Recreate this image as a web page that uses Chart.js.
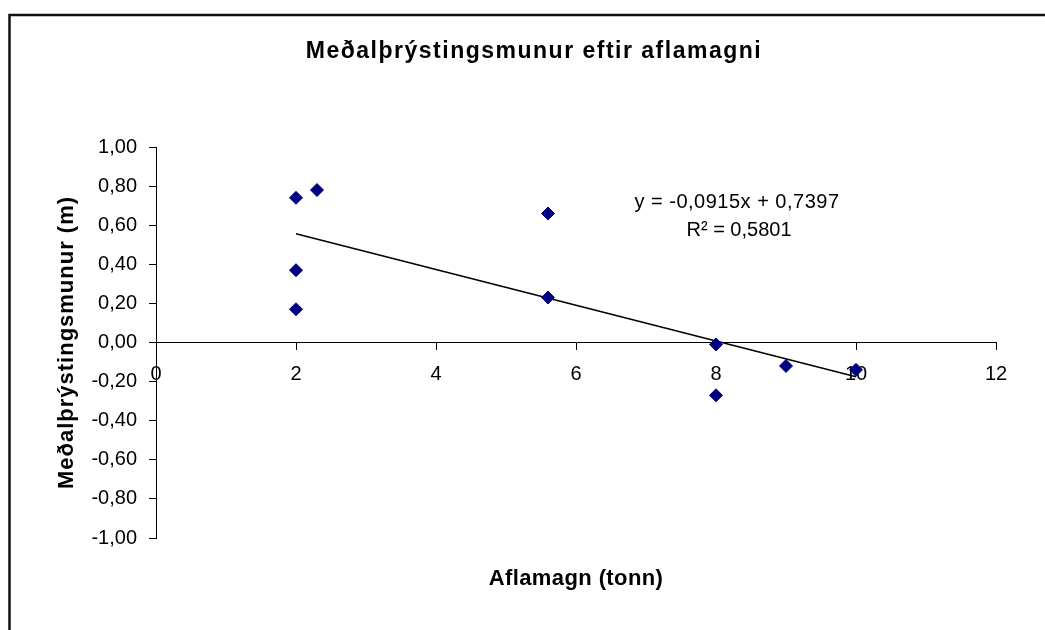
<!DOCTYPE html>
<html>
<head>
<meta charset="utf-8">
<script src="https://cdn.jsdelivr.net/npm/chart.js@4"></script>
<style>
  body { margin: 0; background: #fff; }
  #wrap { width: 1045px; height: 630px; }
</style>
</head>
<body>
<div id="wrap"><canvas id="scatter_chart" width="1045" height="630"></canvas></div>
<script>
// 測定データ (aflamagn, meðalþrýstingsmunur)
const aflamagn = [2, 2.3, 2, 2, 5.6, 5.6, 8, 8, 9, 10]
const thrystingsmunur = [0.74, 0.78, 0.37, 0.17, 0.66, 0.23, -0.01, -0.27, -0.12, -0.14]

// 近似直線 y = a x + b
const slope = -0.0915
const intercept = 0.7397
const r2 = 0.5801

// 軸の設定
const xTicks = [0, 12, 2]
const yTicks = [-1, 1, 0.2]

const titleText = 'Meðalþrýstingsmunur eftir aflamagni'
const xTitle = 'Aflamagn (tonn)'
const yTitle = 'Meðalþrýstingsmunur (m)'

const comma = (v, d) => (Math.abs(v) < 1e-9 ? 0 : v).toFixed(d).replace('.', ',')

const points = aflamagn.map((x, i) => ({ x: x, y: thrystingsmunur[i] }))
const xMin = Math.min(...aflamagn)
const xMax = Math.max(...aflamagn)
const trend = [
  { x: xMin, y: slope * xMin + intercept },
  { x: xMax, y: slope * xMax + intercept },
]
const eqLine1 = 'y = ' + comma(slope, 4) + 'x + ' + comma(intercept, 4)
const eqLine2 = 'R² = ' + comma(r2, 4)

// 枠線とテキストを描くプラグイン
const extras = {
  id: 'extras',
  beforeDraw(chart) {
    const c = chart.ctx
    c.save()
    c.strokeStyle = '#111'
    c.lineWidth = 2.5
    c.beginPath()
    c.moveTo(9.5, 640)
    c.lineTo(9.5, 15)
    c.lineTo(1050, 15)
    c.stroke()
    c.restore()
  },
  afterDraw(chart) {
    const c = chart.ctx
    const area = chart.chartArea
    const xs = chart.scales.x
    const ys = chart.scales.y
    c.save()
    c.fillStyle = '#000'
    c.textAlign = 'center'
    c.textBaseline = 'alphabetic'
    // タイトル
    c.font = 'bold 23px "Liberation Sans", Arial, sans-serif'
    c.letterSpacing = '1.5px'
    c.fillText(titleText, 534, 58)
    // x軸タイトル
    c.font = 'bold 22px "Liberation Sans", Arial, sans-serif'
    c.letterSpacing = '0.4px'
    c.fillText(xTitle, (area.left + area.right) / 2, 585)
    // y軸タイトル
    c.save()
    c.translate(73, (area.top + area.bottom) / 2)
    c.rotate(-Math.PI / 2)
    c.letterSpacing = '1px'
    c.fillText(yTitle, 0, 0)
    c.restore()
    // 近似式
    c.font = '20px "Liberation Sans", Arial, sans-serif'
    c.letterSpacing = '0.5px'
    const ex = xs.getPixelForValue(8.3)
    const ey = ys.getPixelForValue(0.69)
    c.fillText(eqLine1, ex, ey)
    c.letterSpacing = '0px'
    c.fillText(eqLine2, ex + 2, ey + 28)
    c.restore()
  },
}

const ctx = document.getElementById('scatter_chart').getContext('2d')
const scatter_chart = new Chart(ctx, {
  type: 'scatter',
  data: {
    datasets: [
      {
        label: 'Meðalþrýstingsmunur',
        data: points,
        pointStyle: 'rectRot',
        pointRadius: 6.5,
        pointBorderWidth: 1,
        backgroundColor: '#000080',
        borderColor: '#000080',
      },
      {
        type: 'line',
        label: 'Línuleg leitni',
        data: trend,
        borderColor: '#000',
        borderWidth: 1.6,
        pointRadius: 0,
        fill: false,
      },
    ],
  },
  options: {
    responsive: false,
    animation: false,
    devicePixelRatio: 1,
    layout: { padding: { top: 147, right: 49, bottom: 92, left: 0 } },
    plugins: {
      legend: { display: false },
      tooltip: { enabled: false },
    },
    scales: {
      x: {
        type: 'linear',
        position: { y: 0 },
        min: xTicks[0],
        max: xTicks[1],
        ticks: {
          stepSize: xTicks[2],
          color: '#000',
          padding: 13,
          font: { family: '"Liberation Sans", Arial, sans-serif', size: 20 },
        },
        grid: { drawOnChartArea: false, drawTicks: true, tickLength: 7, tickColor: '#000' },
        border: { display: true, color: '#000', width: 1 },
        afterFit: (scale) => { scale.height = 0 },
      },
      y: {
        type: 'linear',
        position: 'left',
        min: yTicks[0],
        max: yTicks[1],
        ticks: {
          stepSize: yTicks[2],
          color: '#000',
          padding: 12,
          font: { family: '"Liberation Sans", Arial, sans-serif', size: 20 },
          callback: (v) => comma(v, 2),
        },
        grid: { drawOnChartArea: false, drawTicks: true, tickLength: 7, tickColor: '#000' },
        border: { display: true, color: '#000', width: 1 },
        afterFit: (scale) => { scale.width = 156 },
      },
    },
  },
  plugins: [extras],
})
</script>
</body>
</html>
